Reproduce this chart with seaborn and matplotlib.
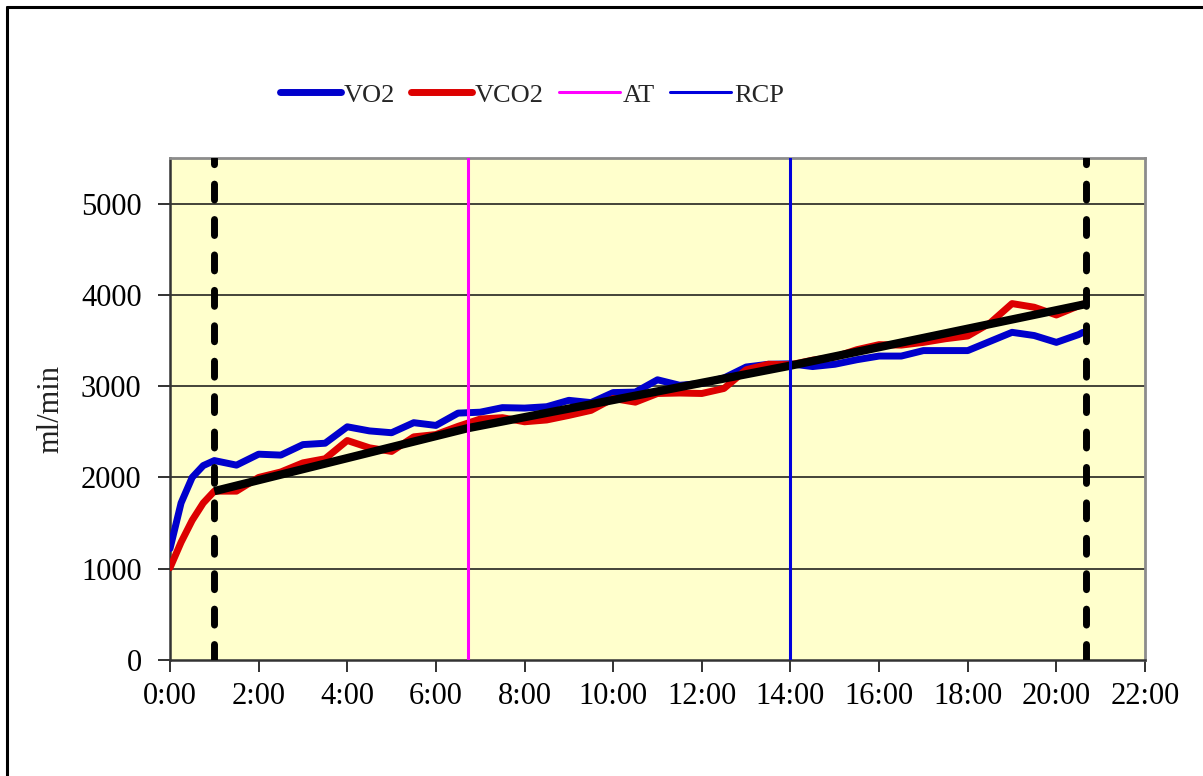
import matplotlib
matplotlib.use("Agg")
import matplotlib.pyplot as plt
from matplotlib.lines import Line2D
from matplotlib.ticker import FixedLocator, FuncFormatter
import seaborn as sns
import pandas as pd

# Exercise test time axis (minutes)
time_min = [0, 0.25, 0.5, 0.75, 1.0, 1.5, 2.0, 2.5, 3.0, 3.5, 4.0, 4.5, 5.0,
            5.5, 6.0, 6.5, 7.0, 7.5, 8.0, 8.5, 9.0, 9.5, 10.0, 10.5, 11.0,
            11.5, 12.0, 12.5, 13.0, 13.5, 14.0, 14.5, 15.0, 15.5, 16.0, 16.5,
            17.0, 17.5, 18.0, 18.5, 19.0, 19.5, 20.0, 20.5, 20.6]

# Oxygen uptake (ml/min)
vo2 = [1220, 1720, 2000, 2130, 2185, 2135, 2255, 2245, 2360, 2375, 2555, 2510,
       2490, 2600, 2570, 2705, 2715, 2765, 2760, 2775, 2845, 2820, 2930, 2935,
       3070, 3010, 3030, 3090, 3210, 3240, 3245, 3215, 3240, 3290, 3330, 3330,
       3390, 3390, 3390, 3490, 3590, 3555, 3480, 3565, 3590]

# Carbon dioxide output (ml/min)
vco2 = [1010, 1290, 1530, 1720, 1850, 1850, 2000, 2060, 2160, 2205, 2405, 2325,
        2285, 2445, 2470, 2560, 2640, 2655, 2610, 2630, 2680, 2735, 2865, 2825,
        2920, 2925, 2920, 2975, 3180, 3240, 3235, 3285, 3320, 3400, 3455, 3450,
        3480, 3520, 3550, 3690, 3905, 3865, 3780, 3880, 3900]

# Trend line through the ramp phase
trend_time = [1.0, 6.72, 14.0, 20.67]
trend_val = [1850, 2540, 3225, 3900]

# Markers: ramp start/end, anaerobic threshold, respiratory compensation point
ramp_start = 1.0
ramp_end = 20.67
at_time = 6.72
rcp_time = 14.0

x_ticks = list(range(0, 23, 2))
y_ticks = [0, 1000, 2000, 3000, 4000, 5000]

sns.set_theme(style="white")
plt.rcParams["font.family"] = ["Liberation Serif", "DejaVu Serif"]

df = pd.DataFrame({"t": time_min, "VO2": vo2, "VCO2": vco2})
trend_df = pd.DataFrame({"t": trend_time, "v": trend_val})

fig = plt.figure(figsize=(12.03, 7.76), dpi=100)
ax = fig.add_axes([170 / 1203, 1 - 660 / 776, (1145 - 170) / 1203, (660 - 158) / 776])
ax.set_facecolor("#FFFFCC")

blue = "#0000CC"
red = "#DD0000"

sns.lineplot(data=df, x="t", y="VO2", ax=ax, color=blue, linewidth=5.0,
             solid_capstyle="round", solid_joinstyle="round", zorder=3)
sns.lineplot(data=df, x="t", y="VCO2", ax=ax, color=red, linewidth=5.0,
             solid_capstyle="round", solid_joinstyle="round", zorder=4)
sns.lineplot(data=trend_df, x="t", y="v", ax=ax, color="black", linewidth=6.0,
             solid_capstyle="butt", zorder=5)

for xv in (ramp_start, ramp_end):
    ax.axvline(xv, color="black", linewidth=5.0, linestyle=(0, (2.3, 2.8)),
               dash_capstyle="round", zorder=6)
ax.axvline(at_time, color="#FF00FF", linewidth=2.2, zorder=6)
ax.axvline(rcp_time, color="#0000DD", linewidth=2.2, zorder=6)

ax.set_xlim(0, 22)
ax.set_ylim(0, 5500)
ax.xaxis.set_major_locator(FixedLocator(x_ticks))
ax.yaxis.set_major_locator(FixedLocator(y_ticks))
ax.xaxis.set_major_formatter(FuncFormatter(lambda v, p: f"{int(v)}:00"))
ax.yaxis.set_major_formatter(FuncFormatter(lambda v, p: f"{int(v)}"))

for yv in y_ticks[1:]:
    ax.axhline(yv, color="#111111", linewidth=1.1, zorder=1)

ax.tick_params(axis="both", direction="out", length=8.5, width=1.3,
               color="#222222", labelsize=22, labelcolor="black",
               bottom=True, left=True)
ax.tick_params(axis="y", pad=12)
ax.tick_params(axis="x", pad=7)

for side in ("top", "right"):
    ax.spines[side].set_color("#8C8C8C")
    ax.spines[side].set_linewidth(2.0)
for side in ("left", "bottom"):
    ax.spines[side].set_color("#333333")
    ax.spines[side].set_linewidth(1.8)

ax.set_xlabel("")
ax.set_ylabel("ml/min", fontsize=22, labelpad=11, color="#222222")

handles = [
    Line2D([], [], color=blue, linewidth=5.0, solid_capstyle="round"),
    Line2D([], [], color=red, linewidth=5.0, solid_capstyle="round"),
    Line2D([], [], color="#FF00FF", linewidth=2.2),
    Line2D([], [], color="#0000DD", linewidth=2.2),
]
fig.legend(handles, ["VO2", "VCO2", "AT", "RCP"], loc="center",
           bbox_to_anchor=(532 / 1203, 1 - 95 / 776), ncol=4, frameon=False,
           fontsize=19, handlelength=2.3, handletextpad=0.1, columnspacing=0.6)

# Outer frame of the chart area
fig.add_artist(Line2D([7 / 1203, 7 / 1203], [0, 1 - 7 / 776], color="black",
                      linewidth=2.2, transform=fig.transFigure))
fig.add_artist(Line2D([7 / 1203, 1], [1 - 7 / 776, 1 - 7 / 776], color="black",
                      linewidth=2.2, transform=fig.transFigure))

fig.savefig("out.png", dpi=100, facecolor="white")
